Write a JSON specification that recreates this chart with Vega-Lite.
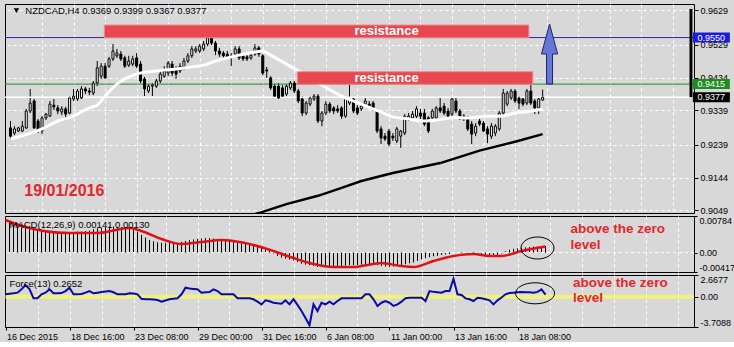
{
"$schema": "https://vega.github.io/schema/vega-lite/v6.json",
"background": "#d8d8d8",
"padding": {"left": 3, "top": 3, "right": 0, "bottom": 0},
"bounds": "flush",
"spacing": 3,
"config": {
  "view": {"stroke": "#000000", "strokeWidth": 1, "fill": "#d8d8d8"},
  "axis": {"labelFont": "Liberation Sans", "labelFontSize": 9, "labelColor": "#000000", "gridColor": "#ffffff", "gridDash": [3, 3], "gridOpacity": 1, "tickColor": "#000000", "domain": false, "labelOverlap": false, "tickCount": 40},
  "text": {"font": "Liberation Sans"}
},
"datasets": {
"bars": [
{"i":0,"o":0.9288,"h":0.9308,"l":0.9256,"c":0.9264},
{"i":1,"o":0.9273,"h":0.9293,"l":0.9267,"c":0.9285},
{"i":2,"o":0.9279,"h":0.9291,"l":0.9276,"c":0.9288},
{"i":3,"o":0.9279,"h":0.9308,"l":0.9276,"c":0.9293},
{"i":4,"o":0.9288,"h":0.9343,"l":0.9285,"c":0.9337},
{"i":5,"o":0.9337,"h":0.9401,"l":0.9331,"c":0.9360},
{"i":6,"o":0.9366,"h":0.9372,"l":0.9285,"c":0.9288},
{"i":7,"o":0.9308,"h":0.9314,"l":0.9273,"c":0.9279},
{"i":8,"o":0.9279,"h":0.9322,"l":0.9270,"c":0.9317},
{"i":9,"o":0.9317,"h":0.9331,"l":0.9311,"c":0.9328},
{"i":10,"o":0.9322,"h":0.9366,"l":0.9320,"c":0.9357},
{"i":11,"o":0.9354,"h":0.9372,"l":0.9340,"c":0.9349},
{"i":12,"o":0.9346,"h":0.9354,"l":0.9328,"c":0.9337},
{"i":13,"o":0.9334,"h":0.9351,"l":0.9325,"c":0.9343},
{"i":14,"o":0.9343,"h":0.9349,"l":0.9314,"c":0.9328},
{"i":15,"o":0.9331,"h":0.9380,"l":0.9328,"c":0.9375},
{"i":16,"o":0.9372,"h":0.9401,"l":0.9366,"c":0.9380},
{"i":17,"o":0.9372,"h":0.9401,"l":0.9366,"c":0.9395},
{"i":18,"o":0.9375,"h":0.9409,"l":0.9372,"c":0.9401},
{"i":19,"o":0.9401,"h":0.9407,"l":0.9386,"c":0.9395},
{"i":20,"o":0.9395,"h":0.9404,"l":0.9383,"c":0.9392},
{"i":21,"o":0.9389,"h":0.9424,"l":0.9383,"c":0.9418},
{"i":22,"o":0.9418,"h":0.9482,"l":0.9409,"c":0.9462},
{"i":23,"o":0.9438,"h":0.9476,"l":0.9430,"c":0.9467},
{"i":24,"o":0.9467,"h":0.9476,"l":0.9430,"c":0.9433},
{"i":25,"o":0.9467,"h":0.9494,"l":0.9462,"c":0.9488},
{"i":26,"o":0.9488,"h":0.9531,"l":0.9482,"c":0.9511},
{"i":27,"o":0.9497,"h":0.9517,"l":0.9491,"c":0.9505},
{"i":28,"o":0.9502,"h":0.9511,"l":0.9482,"c":0.9488},
{"i":29,"o":0.9491,"h":0.9497,"l":0.9462,"c":0.9467},
{"i":30,"o":0.9470,"h":0.9497,"l":0.9465,"c":0.9482},
{"i":31,"o":0.9473,"h":0.9497,"l":0.9467,"c":0.9488},
{"i":32,"o":0.9491,"h":0.9505,"l":0.9462,"c":0.9467},
{"i":33,"o":0.9473,"h":0.9482,"l":0.9418,"c":0.9424},
{"i":34,"o":0.9430,"h":0.9436,"l":0.9380,"c":0.9401},
{"i":35,"o":0.9395,"h":0.9415,"l":0.9389,"c":0.9409},
{"i":36,"o":0.9409,"h":0.9418,"l":0.9380,"c":0.9412},
{"i":37,"o":0.9409,"h":0.9430,"l":0.9404,"c":0.9424},
{"i":38,"o":0.9424,"h":0.9453,"l":0.9418,"c":0.9444},
{"i":39,"o":0.9438,"h":0.9467,"l":0.9433,"c":0.9453},
{"i":40,"o":0.9447,"h":0.9482,"l":0.9438,"c":0.9476},
{"i":41,"o":0.9473,"h":0.9482,"l":0.9438,"c":0.9447},
{"i":42,"o":0.9459,"h":0.9467,"l":0.9430,"c":0.9444},
{"i":43,"o":0.9453,"h":0.9476,"l":0.9447,"c":0.9467},
{"i":44,"o":0.9462,"h":0.9491,"l":0.9456,"c":0.9482},
{"i":45,"o":0.9482,"h":0.9505,"l":0.9476,"c":0.9497},
{"i":46,"o":0.9497,"h":0.9525,"l":0.9491,"c":0.9517},
{"i":47,"o":0.9511,"h":0.9525,"l":0.9505,"c":0.9517},
{"i":48,"o":0.9511,"h":0.9531,"l":0.9505,"c":0.9525},
{"i":49,"o":0.9517,"h":0.9540,"l":0.9511,"c":0.9531},
{"i":50,"o":0.9531,"h":0.9554,"l":0.9525,"c":0.9549},
{"i":51,"o":0.9549,"h":0.9563,"l":0.9528,"c":0.9534},
{"i":52,"o":0.9534,"h":0.9540,"l":0.9499,"c":0.9511},
{"i":53,"o":0.9511,"h":0.9520,"l":0.9494,"c":0.9502},
{"i":54,"o":0.9505,"h":0.9511,"l":0.9488,"c":0.9497},
{"i":55,"o":0.9502,"h":0.9511,"l":0.9488,"c":0.9494},
{"i":56,"o":0.9497,"h":0.9505,"l":0.9467,"c":0.9494},
{"i":57,"o":0.9502,"h":0.9525,"l":0.9497,"c":0.9517},
{"i":58,"o":0.9517,"h":0.9525,"l":0.9485,"c":0.9491},
{"i":59,"o":0.9497,"h":0.9505,"l":0.9482,"c":0.9488},
{"i":60,"o":0.9494,"h":0.9502,"l":0.9482,"c":0.9488},
{"i":61,"o":0.9491,"h":0.9505,"l":0.9485,"c":0.9499},
{"i":62,"o":0.9502,"h":0.9531,"l":0.9497,"c":0.9520},
{"i":63,"o":0.9520,"h":0.9525,"l":0.9494,"c":0.9502},
{"i":64,"o":0.9497,"h":0.9502,"l":0.9441,"c":0.9447},
{"i":65,"o":0.9456,"h":0.9465,"l":0.9433,"c":0.9453},
{"i":66,"o":0.9433,"h":0.9438,"l":0.9398,"c":0.9404},
{"i":67,"o":0.9409,"h":0.9415,"l":0.9375,"c":0.9380},
{"i":68,"o":0.9409,"h":0.9418,"l":0.9372,"c":0.9375},
{"i":69,"o":0.9404,"h":0.9412,"l":0.9375,"c":0.9380},
{"i":70,"o":0.9386,"h":0.9415,"l":0.9380,"c":0.9409},
{"i":71,"o":0.9404,"h":0.9424,"l":0.9398,"c":0.9418},
{"i":72,"o":0.9418,"h":0.9424,"l":0.9389,"c":0.9395},
{"i":73,"o":0.9395,"h":0.9401,"l":0.9360,"c":0.9366},
{"i":74,"o":0.9372,"h":0.9380,"l":0.9322,"c":0.9331},
{"i":75,"o":0.9331,"h":0.9366,"l":0.9325,"c":0.9360},
{"i":76,"o":0.9357,"h":0.9380,"l":0.9351,"c":0.9375},
{"i":77,"o":0.9372,"h":0.9386,"l":0.9366,"c":0.9380},
{"i":78,"o":0.9380,"h":0.9386,"l":0.9302,"c":0.9308},
{"i":79,"o":0.9308,"h":0.9337,"l":0.9293,"c":0.9331},
{"i":80,"o":0.9331,"h":0.9366,"l":0.9325,"c":0.9357},
{"i":81,"o":0.9357,"h":0.9363,"l":0.9331,"c":0.9337},
{"i":82,"o":0.9346,"h":0.9351,"l":0.9328,"c":0.9337},
{"i":83,"o":0.9343,"h":0.9354,"l":0.9331,"c":0.9337},
{"i":84,"o":0.9346,"h":0.9351,"l":0.9314,"c":0.9322},
{"i":85,"o":0.9322,"h":0.9380,"l":0.9317,"c":0.9375},
{"i":86,"o":0.9360,"h":0.9415,"l":0.9354,"c":0.9372},
{"i":87,"o":0.9372,"h":0.9378,"l":0.9331,"c":0.9337},
{"i":88,"o":0.9346,"h":0.9354,"l":0.9325,"c":0.9331},
{"i":89,"o":0.9343,"h":0.9357,"l":0.9337,"c":0.9351},
{"i":90,"o":0.9357,"h":0.9378,"l":0.9349,"c":0.9366},
{"i":91,"o":0.9357,"h":0.9366,"l":0.9346,"c":0.9351},
{"i":92,"o":0.9360,"h":0.9366,"l":0.9337,"c":0.9343},
{"i":93,"o":0.9337,"h":0.9343,"l":0.9273,"c":0.9279},
{"i":94,"o":0.9285,"h":0.9293,"l":0.9241,"c":0.9259},
{"i":95,"o":0.9264,"h":0.9273,"l":0.9250,"c":0.9256},
{"i":96,"o":0.9279,"h":0.9285,"l":0.9235,"c":0.9241},
{"i":97,"o":0.9264,"h":0.9273,"l":0.9250,"c":0.9259},
{"i":98,"o":0.9250,"h":0.9291,"l":0.9244,"c":0.9285},
{"i":99,"o":0.9264,"h":0.9282,"l":0.9230,"c":0.9279},
{"i":100,"o":0.9273,"h":0.9328,"l":0.9267,"c":0.9322},
{"i":101,"o":0.9314,"h":0.9331,"l":0.9308,"c":0.9322},
{"i":102,"o":0.9317,"h":0.9337,"l":0.9311,"c":0.9328},
{"i":103,"o":0.9322,"h":0.9351,"l":0.9317,"c":0.9343},
{"i":104,"o":0.9331,"h":0.9343,"l":0.9314,"c":0.9322},
{"i":105,"o":0.9331,"h":0.9343,"l":0.9293,"c":0.9299},
{"i":106,"o":0.9317,"h":0.9322,"l":0.9273,"c":0.9279},
{"i":107,"o":0.9317,"h":0.9343,"l":0.9308,"c":0.9337},
{"i":108,"o":0.9317,"h":0.9351,"l":0.9311,"c":0.9346},
{"i":109,"o":0.9346,"h":0.9375,"l":0.9331,"c":0.9337},
{"i":110,"o":0.9351,"h":0.9360,"l":0.9325,"c":0.9331},
{"i":111,"o":0.9337,"h":0.9346,"l":0.9317,"c":0.9322},
{"i":112,"o":0.9328,"h":0.9378,"l":0.9322,"c":0.9372},
{"i":113,"o":0.9366,"h":0.9375,"l":0.9331,"c":0.9337},
{"i":114,"o":0.9337,"h":0.9343,"l":0.9311,"c":0.9317},
{"i":115,"o":0.9322,"h":0.9328,"l":0.9308,"c":0.9314},
{"i":116,"o":0.9317,"h":0.9322,"l":0.9279,"c":0.9285},
{"i":117,"o":0.9299,"h":0.9308,"l":0.9241,"c":0.9270},
{"i":118,"o":0.9273,"h":0.9302,"l":0.9264,"c":0.9293},
{"i":119,"o":0.9308,"h":0.9314,"l":0.9293,"c":0.9299},
{"i":120,"o":0.9302,"h":0.9308,"l":0.9276,"c":0.9279},
{"i":121,"o":0.9285,"h":0.9293,"l":0.9244,"c":0.9270},
{"i":122,"o":0.9264,"h":0.9302,"l":0.9256,"c":0.9293},
{"i":123,"o":0.9273,"h":0.9299,"l":0.9264,"c":0.9293},
{"i":124,"o":0.9285,"h":0.9337,"l":0.9279,"c":0.9331},
{"i":125,"o":0.9331,"h":0.9401,"l":0.9325,"c":0.9389},
{"i":126,"o":0.9357,"h":0.9395,"l":0.9351,"c":0.9389},
{"i":127,"o":0.9375,"h":0.9401,"l":0.9369,"c":0.9395},
{"i":128,"o":0.9395,"h":0.9401,"l":0.9360,"c":0.9366},
{"i":129,"o":0.9375,"h":0.9380,"l":0.9343,"c":0.9360},
{"i":130,"o":0.9372,"h":0.9378,"l":0.9351,"c":0.9357},
{"i":131,"o":0.9360,"h":0.9401,"l":0.9354,"c":0.9395},
{"i":132,"o":0.9395,"h":0.9415,"l":0.9354,"c":0.9360},
{"i":133,"o":0.9366,"h":0.9372,"l":0.9328,"c":0.9346},
{"i":134,"o":0.9346,"h":0.9378,"l":0.9328,"c":0.9372},
{"i":135,"o":0.9369,"h":0.9399,"l":0.9367,"c":0.9377}
],
"ma": [
{"i":0,"v":0.9256},{"i":8,"v":0.9285},{"i":12,"v":0.9308},{"i":16,"v":0.9322},{"i":20,"v":0.9346},{"i":22,"v":0.9354},{"i":24,"v":0.9380},{"i":27,"v":0.9415},{"i":29,"v":0.9430},{"i":32,"v":0.9444},{"i":37,"v":0.9453},{"i":42,"v":0.9459},{"i":46,"v":0.9465},{"i":49,"v":0.9470},{"i":52,"v":0.9482},{"i":55,"v":0.9491},{"i":58,"v":0.9499},{"i":62,"v":0.9508},{"i":64,"v":0.9511},{"i":66,"v":0.9499},{"i":70,"v":0.9473},{"i":74,"v":0.9447},{"i":79,"v":0.9412},{"i":84,"v":0.9380},{"i":89,"v":0.9357},{"i":94,"v":0.9334},{"i":97,"v":0.9320},{"i":101,"v":0.9314},{"i":104,"v":0.9308},{"i":108,"v":0.9311},{"i":113,"v":0.9318},{"i":116,"v":0.9317},{"i":121,"v":0.9322},{"i":124,"v":0.9322},{"i":128,"v":0.9331},{"i":132,"v":0.9337},{"i":135,"v":0.9343}
],
"ma2": [
{"i":60,"v":0.9032},{"i":63,"v":0.9041},{"i":70,"v":0.9067},{"i":78,"v":0.9091},{"i":84,"v":0.9114},{"i":89,"v":0.9134},{"i":97,"v":0.9157},{"i":109,"v":0.9186},{"i":119,"v":0.9222},{"i":128,"v":0.9248},{"i":135,"v":0.9270}
],
"macd": [
{"i":0,"v":0.0070},{"i":1,"v":0.0068},{"i":2,"v":0.0066},{"i":3,"v":0.0063},{"i":4,"v":0.0060},{"i":5,"v":0.0058},{"i":6,"v":0.0055},{"i":7,"v":0.0052},{"i":8,"v":0.0050},{"i":9,"v":0.0048},
{"i":10,"v":0.0047},{"i":11,"v":0.0046},{"i":12,"v":0.0045},{"i":13,"v":0.0044},{"i":14,"v":0.0043},{"i":15,"v":0.0043},{"i":16,"v":0.0043},{"i":17,"v":0.0044},{"i":18,"v":0.0045},{"i":19,"v":0.0045},
{"i":20,"v":0.0046},{"i":21,"v":0.0047},{"i":22,"v":0.0050},{"i":23,"v":0.0052},{"i":24,"v":0.0053},{"i":25,"v":0.0054},{"i":26,"v":0.0056},{"i":27,"v":0.0056},{"i":28,"v":0.0055},{"i":29,"v":0.0054},
{"i":30,"v":0.0053},{"i":31,"v":0.0052},{"i":32,"v":0.0050},{"i":33,"v":0.0045},{"i":34,"v":0.0038},{"i":35,"v":0.0032},{"i":36,"v":0.0027},{"i":37,"v":0.0024},{"i":38,"v":0.0022},{"i":39,"v":0.0021},
{"i":40,"v":0.0021},{"i":41,"v":0.0020},{"i":42,"v":0.0020},{"i":43,"v":0.0021},{"i":44,"v":0.0023},{"i":45,"v":0.0025},{"i":46,"v":0.0027},{"i":47,"v":0.0028},{"i":48,"v":0.0029},{"i":49,"v":0.0030},
{"i":50,"v":0.0031},{"i":51,"v":0.0031},{"i":52,"v":0.0030},{"i":53,"v":0.0029},{"i":54,"v":0.0028},{"i":55,"v":0.0027},{"i":56,"v":0.0025},{"i":57,"v":0.0024},{"i":58,"v":0.0022},{"i":59,"v":0.0020},
{"i":60,"v":0.0019},{"i":61,"v":0.0018},{"i":62,"v":0.0017},{"i":63,"v":0.0015},{"i":64,"v":0.0011},{"i":65,"v":0.0007},{"i":66,"v":0.0003},{"i":67,"v":-0.0002},{"i":68,"v":-0.0007},{"i":69,"v":-0.0011},
{"i":70,"v":-0.0013},{"i":71,"v":-0.0015},{"i":72,"v":-0.0017},{"i":73,"v":-0.0020},{"i":74,"v":-0.0024},{"i":75,"v":-0.0026},{"i":76,"v":-0.0027},{"i":77,"v":-0.0028},{"i":78,"v":-0.0031},{"i":79,"v":-0.0031},
{"i":80,"v":-0.0031},{"i":81,"v":-0.0031},{"i":82,"v":-0.0031},{"i":83,"v":-0.0031},{"i":84,"v":-0.0029},{"i":85,"v":-0.0028},{"i":86,"v":-0.0027},{"i":87,"v":-0.0027},{"i":88,"v":-0.0027},{"i":89,"v":-0.0026},
{"i":90,"v":-0.0025},{"i":91,"v":-0.0025},{"i":92,"v":-0.0025},{"i":93,"v":-0.0027},{"i":94,"v":-0.0029},{"i":95,"v":-0.0030},{"i":96,"v":-0.0031},{"i":97,"v":-0.0030},{"i":98,"v":-0.0029},{"i":99,"v":-0.0028},
{"i":100,"v":-0.0025},{"i":101,"v":-0.0023},{"i":102,"v":-0.0021},{"i":103,"v":-0.0018},{"i":104,"v":-0.0015},{"i":105,"v":-0.0012},{"i":106,"v":-0.0010},{"i":107,"v":-0.0008},{"i":108,"v":-0.0007},{"i":109,"v":-0.0005},
{"i":110,"v":-0.0004},{"i":111,"v":-0.0003},{"i":112,"v":-0.0001},{"i":113,"v":0.0001},{"i":114,"v":0.0001},{"i":115,"v":0.0000},{"i":116,"v":-0.0002},{"i":117,"v":-0.0004},{"i":118,"v":-0.0005},{"i":119,"v":-0.0006},
{"i":120,"v":-0.0007},{"i":121,"v":-0.0008},{"i":122,"v":-0.0007},{"i":123,"v":-0.0006},{"i":124,"v":-0.0002},{"i":125,"v":0.0003},{"i":126,"v":0.0006},{"i":127,"v":0.0008},{"i":128,"v":0.0009},{"i":129,"v":0.0010},
{"i":130,"v":0.0011},{"i":131,"v":0.0012},{"i":132,"v":0.0013},{"i":133,"v":0.0013},{"i":134,"v":0.0014},{"i":135,"v":0.00141}
],
"sig": [
{"i":0,"v":0.00698},{"i":4,"v":0.00570},{"i":16,"v":0.00419},{"i":23,"v":0.00419},{"i":31,"v":0.00527},{"i":34,"v":0.00462},{"i":39,"v":0.00291},{"i":44,"v":0.00183},{"i":49,"v":0.00226},{"i":54,"v":0.00269},{"i":57,"v":0.00248},{"i":62,"v":0.00162},{"i":67,"v":0.00033},{"i":72,"v":-0.00117},{"i":77,"v":-0.00246},{"i":82,"v":-0.00310},{"i":87,"v":-0.00310},{"i":89,"v":-0.00289},{"i":94,"v":-0.00224},{"i":99,"v":-0.00289},{"i":102,"v":-0.00310},{"i":107,"v":-0.00181},{"i":112,"v":-0.00074},{"i":117,"v":-0.00031},{"i":121,"v":-0.00074},{"i":124,"v":-0.00074},{"i":129,"v":0.00033},{"i":135,"v":0.00130}
],
"force": [
{"i":0,"v":0.30},{"i":1,"v":0.38},{"i":2,"v":0.42},{"i":3,"v":0.50},{"i":4,"v":0.91},{"i":5,"v":1.44},{"i":6,"v":0.95},{"i":7,"v":-0.19},{"i":8,"v":-0.19},{"i":9,"v":0.30},
{"i":10,"v":0.50},{"i":11,"v":0.91},{"i":12,"v":0.42},{"i":13,"v":0.42},{"i":14,"v":0.45},{"i":15,"v":0.70},{"i":16,"v":1.11},{"i":17,"v":0.30},{"i":18,"v":0.30},{"i":19,"v":0.35},
{"i":20,"v":0.50},{"i":21,"v":0.70},{"i":22,"v":0.42},{"i":23,"v":0.50},{"i":24,"v":0.58},{"i":25,"v":0.65},{"i":26,"v":0.70},{"i":27,"v":0.55},{"i":28,"v":0.30},{"i":29,"v":0.30},
{"i":30,"v":0.30},{"i":31,"v":0.42},{"i":32,"v":0.40},{"i":33,"v":0.30},{"i":34,"v":-0.25},{"i":35,"v":-0.31},{"i":36,"v":-0.31},{"i":37,"v":-0.35},{"i":38,"v":-0.40},{"i":39,"v":-0.61},
{"i":40,"v":-0.45},{"i":41,"v":-0.31},{"i":42,"v":-0.25},{"i":43,"v":-0.19},{"i":44,"v":0.30},{"i":45,"v":1.11},{"i":46,"v":1.00},{"i":47,"v":0.95},{"i":48,"v":0.91},{"i":49,"v":0.50},
{"i":50,"v":0.55},{"i":51,"v":0.58},{"i":52,"v":0.91},{"i":53,"v":0.70},{"i":54,"v":0.30},{"i":55,"v":0.30},{"i":56,"v":0.30},{"i":57,"v":0.30},{"i":58,"v":-0.19},{"i":59,"v":-0.19},
{"i":60,"v":-0.19},{"i":61,"v":-0.19},{"i":62,"v":-0.31},{"i":63,"v":-0.60},{"i":64,"v":-0.93},{"i":65,"v":-0.44},{"i":66,"v":-0.55},{"i":67,"v":-0.73},{"i":68,"v":-0.80},{"i":69,"v":-0.85},
{"i":70,"v":-0.44},{"i":71,"v":-0.93},{"i":72,"v":-0.31},{"i":73,"v":-1.00},{"i":74,"v":-1.75},{"i":75,"v":-2.60},{"i":76,"v":-3.50},{"i":77,"v":-0.93},{"i":78,"v":-1.75},{"i":79,"v":-0.73},
{"i":80,"v":-0.93},{"i":81,"v":-0.61},{"i":82,"v":-0.93},{"i":83,"v":-0.52},{"i":84,"v":-0.19},{"i":85,"v":-0.19},{"i":86,"v":-0.19},{"i":87,"v":-0.19},{"i":88,"v":-0.19},{"i":89,"v":-0.19},
{"i":90,"v":0.30},{"i":91,"v":0.30},{"i":92,"v":-0.31},{"i":93,"v":-1.13},{"i":94,"v":-0.73},{"i":95,"v":-0.52},{"i":96,"v":-0.73},{"i":97,"v":-1.13},{"i":98,"v":-0.93},{"i":99,"v":-0.60},
{"i":100,"v":-0.19},{"i":101,"v":-0.12},{"i":102,"v":-0.12},{"i":103,"v":-0.12},{"i":104,"v":-0.12},{"i":105,"v":-0.52},{"i":106,"v":0.70},{"i":107,"v":0.60},{"i":108,"v":0.55},{"i":109,"v":0.50},
{"i":110,"v":0.70},{"i":111,"v":0.70},{"i":112,"v":2.20},{"i":113,"v":0.30},{"i":114,"v":0.215},{"i":115,"v":-0.20},{"i":116,"v":-0.31},{"i":117,"v":-0.52},{"i":118,"v":-0.12},{"i":119,"v":-0.19},
{"i":120,"v":-0.30},{"i":121,"v":-0.44},{"i":122,"v":-0.93},{"i":123,"v":-0.44},{"i":124,"v":-0.10},{"i":125,"v":0.30},{"i":126,"v":0.45},{"i":127,"v":0.50},{"i":128,"v":0.55},{"i":129,"v":0.58},
{"i":130,"v":0.55},{"i":131,"v":0.55},{"i":132,"v":0.50},{"i":133,"v":0.60},{"i":134,"v":0.91},{"i":135,"v":0.2652}
],
"zones": [
{"x1":23.8,"x2":131.5,"p1":0.95495,"p2":0.95864,"label":"resistance"},
{"x1":72.75,"x2":132.5,"p1":0.94144,"p2":0.94509,"label":"resistance"}
]
},
"vconcat": [
{
"width": 689, "height": 209,
"layer": [
{"data": {"name": "bars"}, "mark": {"type": "rule", "color": "#000000", "strokeWidth": 1, "clip": true},
 "encoding": {
  "x": {"field": "i", "type": "quantitative", "title": null, "scale": {"domain": [-0.125, 172.125], "nice": false, "zero": false},
        "axis": {"values": [8,16,24,32,40,48,56,64,72,80,88,96,104,112,120,128,136,144,152,160,168], "tickCount": 40, "labels": false, "ticks": false, "domain": false, "grid": true}},
  "y": {"field": "l", "type": "quantitative", "title": null, "scale": {"domain": [0.90412, 0.96473], "nice": false, "zero": false},
        "axis": {"orient": "right", "values": [0.9049, 0.9144, 0.9239, 0.9339, 0.9434, 0.9529, 0.9629], "tickCount": 40, "format": ".4f", "tickSize": 4, "labelPadding": 2, "grid": true, "domain": false, "labelFlush": false, "labelOverlap": false}},
  "y2": {"field": "h"}
 }},
{"data": {"values": [{}]}, "mark": {"type": "rule", "color": "#2a2ab0", "strokeWidth": 1}, "encoding": {"y": {"datum": 0.9550}}},
{"data": {"values": [{}]}, "mark": {"type": "rule", "color": "#1e8c1e", "strokeWidth": 1}, "encoding": {"y": {"datum": 0.9415}}},
{"data": {"values": [{}]}, "mark": {"type": "rule", "color": "#ffffff", "strokeWidth": 1.5}, "encoding": {"y": {"datum": 0.9377}}},
{"data": {"name": "bars"}, "mark": {"type": "bar", "size": 2, "stroke": "#000000", "strokeWidth": 1, "clip": true},
 "encoding": {"x": {"field": "i", "type": "quantitative", "title": null}, "y": {"field": "o", "type": "quantitative", "title": null}, "y2": {"field": "c"},
  "fill": {"condition": {"test": "datum.c >= datum.o", "value": "#ffffff"}, "value": "#000000"}}},
{"data": {"name": "ma"}, "mark": {"type": "line", "color": "#ffffff", "strokeWidth": 3, "clip": true, "interpolate": "monotone"},
 "encoding": {"x": {"field": "i", "type": "quantitative", "title": null}, "y": {"field": "v", "type": "quantitative", "title": null}}},
{"data": {"name": "ma2"}, "mark": {"type": "line", "color": "#000000", "strokeWidth": 2.5, "clip": true},
 "encoding": {"x": {"field": "i", "type": "quantitative", "title": null}, "y": {"field": "v", "type": "quantitative", "title": null}}},
{"data": {"name": "zones"}, "mark": {"type": "rect", "fill": "#e8474f", "stroke": "#f28a8e", "strokeWidth": 1},
 "encoding": {"x": {"field": "x1", "type": "quantitative", "title": null}, "x2": {"field": "x2"}, "y": {"field": "p1", "type": "quantitative", "title": null}, "y2": {"field": "p2"}}},
{"data": {"name": "zones"}, "mark": {"type": "text", "align": "left", "baseline": "alphabetic", "dy": -2.5, "fontSize": 13, "fontWeight": "bold", "color": "#ffffff", "font": "Liberation Sans"},
 "encoding": {"x": {"datum": 87.25}, "y": {"field": "p1", "type": "quantitative", "title": null}, "text": {"field": "label"}}},
{"data": {"values": [{}]}, "mark": {"type": "point", "shape": "M-0.1,1L-0.1,0L-0.27,0L0,-1L0.27,0L0.1,0L0.1,1Z", "size": 3600, "filled": true, "fill": "#6676d4", "stroke": "#22226e", "strokeWidth": 1, "opacity": 1},
 "encoding": {"x": {"datum": 136.75}, "y": {"datum": 0.95023}}},
{"data": {"values": [{}]}, "mark": {"type": "text", "text": "NZDCAD,H4  0.9369 0.9399 0.9367 0.9377", "align": "left", "baseline": "middle", "fontSize": 9.5, "color": "#000000", "font": "Liberation Sans"},
 "encoding": {"x": {"datum": 3.75}, "y": {"datum": 0.9627}}},
{"data": {"values": [{}]}, "mark": {"type": "point", "shape": "triangle-down", "size": 30, "filled": true, "color": "#000000", "opacity": 1},
 "encoding": {"x": {"datum": 1.5}, "y": {"datum": 0.9628}}},
{"data": {"values": [{}]}, "mark": {"type": "text", "text": "19/01/2016", "align": "left", "baseline": "middle", "fontSize": 16, "fontWeight": "bold", "color": "#e3262d", "font": "Liberation Sans"},
 "encoding": {"x": {"datum": 3.5}, "y": {"datum": 0.9105}}},
{"data": {"values": [{}]}, "mark": {"type": "rect", "color": "#000000"},
 "encoding": {"x": {"datum": 172.25}, "x2": {"datum": 173}, "y": {"datum": 0.9377}, "y2": {"datum": 0.9633}}},
{"data": {"values": [{}]}, "mark": {"type": "point", "shape": "M-1,-0.27L1,-0.27L1,0.27L-1,0.27Z", "size": 1369, "filled": true, "color": "#1c1cd8", "opacity": 1},
 "encoding": {"x": {"datum": 177.8}, "y": {"datum": 0.9550}}},
{"data": {"values": [{}]}, "mark": {"type": "point", "shape": "M-1,-0.27L1,-0.27L1,0.27L-1,0.27Z", "size": 1369, "filled": true, "color": "#1e8c1e", "opacity": 1},
 "encoding": {"x": {"datum": 177.8}, "y": {"datum": 0.9415}}},
{"data": {"values": [{}]}, "mark": {"type": "point", "shape": "M-1,-0.27L1,-0.27L1,0.27L-1,0.27Z", "size": 1369, "filled": true, "color": "#000000", "opacity": 1},
 "encoding": {"x": {"datum": 177.8}, "y": {"datum": 0.9377}}},
{"data": {"values": [{}]}, "mark": {"type": "text", "text": "0.9550", "align": "left", "baseline": "middle", "fontSize": 9, "color": "#ffffff", "font": "Liberation Sans"},
 "encoding": {"x": {"datum": 174.25}, "y": {"datum": 0.9550}}},
{"data": {"values": [{}]}, "mark": {"type": "text", "text": "0.9415", "align": "left", "baseline": "middle", "fontSize": 9, "color": "#ffffff", "font": "Liberation Sans"},
 "encoding": {"x": {"datum": 174.25}, "y": {"datum": 0.9415}}},
{"data": {"values": [{}]}, "mark": {"type": "text", "text": "0.9377", "align": "left", "baseline": "middle", "fontSize": 9, "color": "#ffffff", "font": "Liberation Sans"},
 "encoding": {"x": {"datum": 174.25}, "y": {"datum": 0.9377}}}
]
},
{
"width": 689, "height": 56,
"layer": [
{"data": {"name": "macd"}, "mark": {"type": "rule", "color": "#000000", "strokeWidth": 1, "clip": true},
 "encoding": {
  "x": {"field": "i", "type": "quantitative", "title": null, "scale": {"domain": [-0.125, 172.125], "nice": false, "zero": false},
        "axis": {"values": [8,16,24,32,40,48,56,64,72,80,88,96,104,112,120,128,136,144,152,160,168], "tickCount": 40, "labels": false, "ticks": false, "domain": false, "grid": true}},
  "y": {"field": "v", "type": "quantitative", "title": null, "scale": {"domain": [-0.00417, 0.00784], "nice": false, "zero": false},
        "axis": {"orient": "right", "values": [0.00784, 0, -0.00417], "tickCount": 40, "labelExpr": "datum.value > 0.001 ? '0.00784' : (datum.value < -0.001 ? '-0.00417' : '0.00')", "tickSize": 3, "labelPadding": 2, "grid": false, "domain": false, "labelFlush": true, "labelOverlap": false}},
  "y2": {"datum": 0}
 }},
{"data": {"values": [{}]}, "mark": {"type": "rule", "color": "#ffffff", "strokeWidth": 1, "strokeDash": [3, 3]}, "encoding": {"y": {"datum": 0}}},
{"data": {"name": "sig"}, "mark": {"type": "line", "color": "#e01018", "strokeWidth": 2.5, "clip": true, "interpolate": "monotone"},
 "encoding": {"x": {"field": "i", "type": "quantitative", "title": null}, "y": {"field": "v", "type": "quantitative", "title": null}}},
{"data": {"values": [{}]}, "mark": {"type": "text", "text": "MACD(12,26,9) 0.00141 0.00130", "align": "left", "baseline": "middle", "fontSize": 9.5, "color": "#000000", "font": "Liberation Sans"},
 "encoding": {"x": {"datum": 1}, "y": {"datum": 0.00591}}},
{"data": {"values": [{}]}, "mark": {"type": "point", "shape": "M-1,0C-1,-0.368,-0.552,-0.667,0,-0.667C0.552,-0.667,1,-0.368,1,0C1,0.368,0.552,0.667,0,0.667C-0.552,0.667,-1,0.368,-1,0Z", "size": 1089, "filled": false, "stroke": "#000000", "strokeWidth": 1, "opacity": 1},
 "encoding": {"x": {"datum": 133}, "y": {"datum": 0.00098}}},
{"data": {"values": [{}]}, "mark": {"type": "text", "text": "above the zero", "align": "left", "baseline": "middle", "fontSize": 13.5, "fontWeight": "bold", "color": "#e3262d", "font": "Liberation Sans"},
 "encoding": {"x": {"datum": 141.25}, "y": {"datum": 0.00505}}},
{"data": {"values": [{}]}, "mark": {"type": "text", "text": "level", "align": "left", "baseline": "middle", "fontSize": 13.5, "fontWeight": "bold", "color": "#e3262d", "font": "Liberation Sans"},
 "encoding": {"x": {"datum": 141.25}, "y": {"datum": 0.00162}}}
]
},
{
"width": 689, "height": 52,
"layer": [
{"data": {"values": [{}]}, "mark": {"type": "rule", "color": "#f2f27a", "strokeWidth": 4},
 "encoding": {
  "x": {"datum": 0, "scale": {"domain": [-0.125, 172.125], "nice": false, "zero": false},
        "axis": {"values": [0,8,16,24,32,40,48,56,64,72,80,88,96,104,112,120,128,136,144,152,160,168], "tickCount": 40, "grid": true, "domain": false,
                 "labelExpr": "datum.value == 0 ? '16 Dec 2015' : datum.value == 16 ? '18 Dec 16:00' : datum.value == 32 ? '23 Dec 08:00' : datum.value == 48 ? '29 Dec 00:00' : datum.value == 64 ? '31 Dec 16:00' : datum.value == 80 ? '6 Jan 08:00' : datum.value == 96 ? '11 Jan 00:00' : datum.value == 112 ? '13 Jan 16:00' : datum.value == 128 ? '18 Jan 08:00' : ''",
                 "labelAlign": "left", "labelBaseline": "top", "labelPadding": 2, "labelOffset": 1, "labelFlush": false, "labelOverlap": false, "labelBound": false, "tickSize": 3,
                 "tickOpacity": {"condition": {"test": "datum.value % 16 == 0 && datum.value <= 128", "value": 1}, "value": 0},
                 "gridOpacity": {"condition": {"test": "datum.value == 0", "value": 0}, "value": 1}}},
  "x2": {"datum": 172.125},
  "y": {"datum": 0, "scale": {"domain": [-3.7088, 2.6677], "nice": false, "zero": false},
        "axis": {"orient": "right", "values": [2.6677, 0, -3.7088], "tickCount": 40, "labelExpr": "datum.value > 1 ? '2.6677' : (datum.value < -1 ? '-3.7088' : '0.00')", "tickSize": 4, "labelPadding": 2, "grid": false, "domain": false, "labelFlush": true, "labelOverlap": false}}
 }},
{"data": {"name": "force"}, "mark": {"type": "line", "color": "#0a0aa8", "strokeWidth": 2, "clip": true},
 "encoding": {"x": {"field": "i", "type": "quantitative", "title": null}, "y": {"field": "v", "type": "quantitative", "title": null}}},
{"data": {"values": [{}]}, "mark": {"type": "text", "text": "Force(13) 0.2652", "align": "left", "baseline": "middle", "fontSize": 9.5, "color": "#000000", "font": "Liberation Sans"},
 "encoding": {"x": {"datum": 1}, "y": {"datum": 1.564}}},
{"data": {"values": [{}]}, "mark": {"type": "point", "shape": "M-1,0C-1,-0.298,-0.552,-0.54,0,-0.54C0.552,-0.54,1,-0.298,1,0C1,0.298,0.552,0.54,0,0.54C-0.552,0.54,-1,0.298,-1,0Z", "size": 1521, "filled": false, "stroke": "#000000", "strokeWidth": 1, "opacity": 1},
 "encoding": {"x": {"datum": 132.4}, "y": {"datum": 0.424}}},
{"data": {"values": [{}]}, "mark": {"type": "text", "text": "above the zero", "align": "left", "baseline": "middle", "fontSize": 13.5, "fontWeight": "bold", "color": "#e3262d", "font": "Liberation Sans"},
 "encoding": {"x": {"datum": 141.9}, "y": {"datum": 1.724}}},
{"data": {"values": [{}]}, "mark": {"type": "text", "text": "level", "align": "left", "baseline": "middle", "fontSize": 13.5, "fontWeight": "bold", "color": "#e3262d", "font": "Liberation Sans"},
 "encoding": {"x": {"datum": 141.9}, "y": {"datum": -0.19}}}
]
}
]
}
